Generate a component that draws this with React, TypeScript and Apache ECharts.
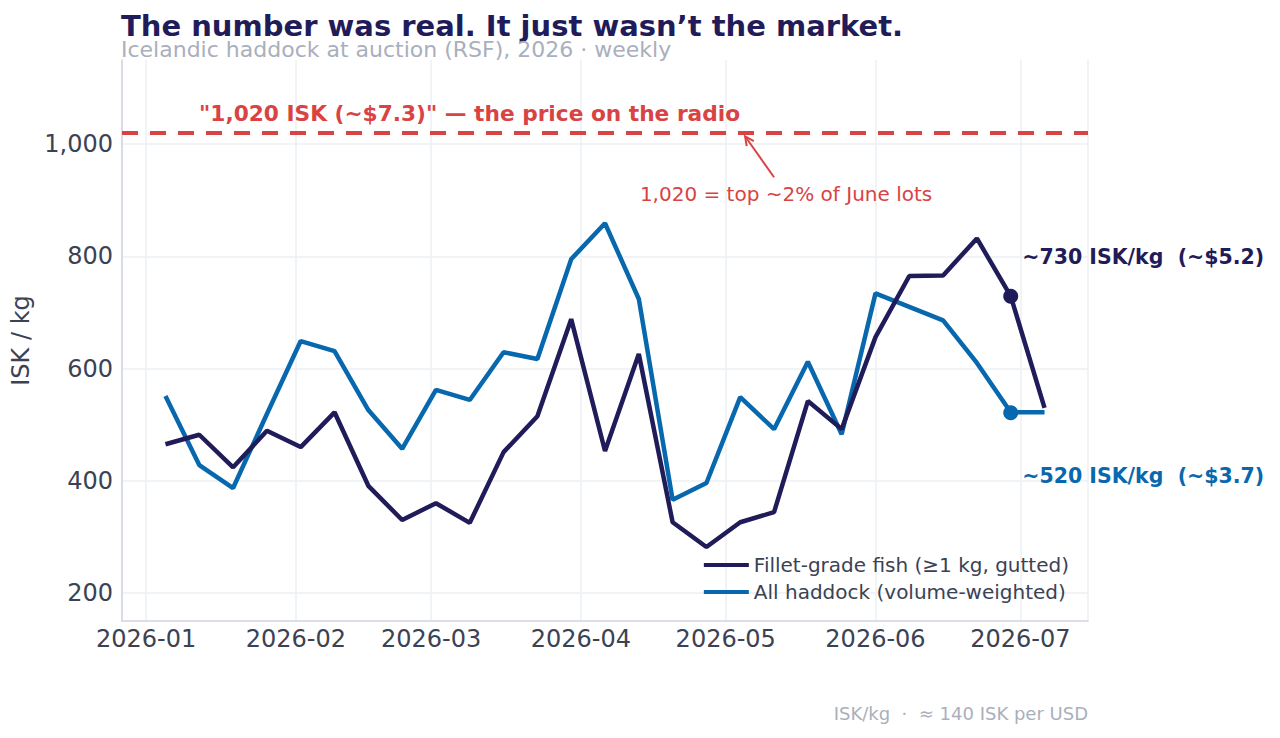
import React, { useEffect, useRef } from "react";
import * as echarts from "echarts";

const weeks = [
  "2026-01-05", "2026-01-12", "2026-01-19", "2026-01-26", "2026-02-02", "2026-02-09",
  "2026-02-16", "2026-02-23", "2026-03-02", "2026-03-09", "2026-03-16", "2026-03-23",
  "2026-03-30", "2026-04-06", "2026-04-13", "2026-04-20", "2026-04-27", "2026-05-04",
  "2026-05-11", "2026-05-18", "2026-05-25", "2026-06-01", "2026-06-08", "2026-06-15",
  "2026-06-22", "2026-06-29", "2026-07-06",
];
const filletGrade = [465, 482, 424, 489, 460, 522, 391, 330, 360, 325, 451, 515, 688, 453, 626, 326, 282, 326, 344, 542, 492, 656, 765, 766, 832, 729, 530];
const allHaddock = [551, 428, 387, 519, 649, 631, 526, 457, 562, 544, 629, 617, 795, 859, 724, 366, 396, 549, 492, 612, 483, 734, 710, 686, 610, 522, 522];
const seriesNames = ["Fillet-grade fish (\u22651 kg, gutted)", "All haddock (volume-weighted)"];
const radioPrice = 1020;
const markerDate = "2026-06-29";
const markerFillet = 729;
const markerAll = 521;
const markerLabels = ["~730 ISK/kg  (~$5.2)", "~520 ISK/kg  (~$3.7)"];
const radioLabel = "\"1,020 ISK (~$7.3)\" \u2014 the price on the radio";
const noteLabel = "1,020 = top ~2% of June lots";
const noteFrom = ["2026-05-11", 941];
const noteTo = ["2026-05-05", 1014];

const NAVY = "#1f1c59";
const BLUE = "#0868ae";
const RED = "#d94343";
const FONT = "DejaVu Sans";
const TXT = "#3b4254";

export default function App() {
  const ref = useRef<HTMLDivElement>(null);
  useEffect(() => {
    if (!ref.current) return;
    const chart = echarts.init(ref.current, null, { renderer: "svg" });
    const option: any = {
      animation: false,
      textStyle: { fontFamily: FONT },
      title: {
        text: "The number was real. It just wasn\u2019t the market.",
        subtext: "Icelandic haddock at auction (RSF), 2026 \u00b7 weekly",
        left: 116,
        top: 6,
        itemGap: -2,
        textStyle: { fontFamily: FONT, fontSize: 29, fontWeight: "bold", color: NAVY },
        subtextStyle: { fontFamily: FONT, fontSize: 22, color: "#a9afbd" },
      },
      grid: { left: 122, right: 192, top: 60, bottom: 117 },
      legend: {
        orient: "vertical",
        right: 206,
        top: 550,
        itemWidth: 45,
        itemHeight: 4,
        itemGap: 7,
        icon: "rect",
        data: seriesNames,
        textStyle: { fontFamily: FONT, fontSize: 20, color: TXT },
      },
      xAxis: {
        type: "time",
        min: "2025-12-27",
        max: "2026-07-15",
        splitNumber: 7,
        minInterval: 28 * 86400000,
        axisLine: { lineStyle: { color: "#cfd5df", width: 1.5 } },
        axisTick: { show: false },
        axisLabel: {
          fontFamily: FONT,
          fontSize: 24,
          color: TXT,
          margin: 6,
          formatter: "{yyyy}-{MM}",
          showMinLabel: false,
          showMaxLabel: false,
        },
        splitLine: { show: true, lineStyle: { color: "#edf0f4", width: 1.5 } },
      },
      yAxis: {
        type: "value",
        min: 150,
        max: 1150,
        splitNumber: 5,
        name: "ISK / kg",
        nameLocation: "middle",
        nameGap: 82,
        nameTextStyle: { fontFamily: FONT, fontSize: 24, color: TXT },
        axisLine: { show: true, lineStyle: { color: "#cfd5df", width: 1.5 } },
        axisTick: { show: false },
        axisLabel: {
          fontFamily: FONT,
          fontSize: 24,
          color: TXT,
          margin: 9,
          showMinLabel: false,
          showMaxLabel: false,
          formatter: (v: number) => v.toLocaleString("en-US"),
        },
        splitLine: { show: true, showMinLine: false, showMaxLine: false, lineStyle: { color: "#edf0f4", width: 1.5 } },
      },
      series: [
        {
          name: seriesNames[0],
          type: "line",
          data: weeks.map((d, i) => [d, filletGrade[i]]),
          showSymbol: false,
          symbol: "none",
          lineStyle: { color: NAVY, width: 4.5 },
          itemStyle: { color: NAVY },
          z: 3,
          markLine: {
            silent: true,
            symbol: "none",
            label: { show: false },
            lineStyle: { color: RED, width: 4, type: [16, 12] },
            data: [{ yAxis: radioPrice }],
          },
        },
        {
          name: seriesNames[1],
          type: "line",
          data: weeks.map((d, i) => [d, allHaddock[i]]),
          showSymbol: false,
          symbol: "none",
          lineStyle: { color: BLUE, width: 4.5 },
          itemStyle: { color: BLUE },
          z: 2,
        },
        {
          type: "scatter",
          data: [[markerDate, markerFillet]],
          symbolSize: 15,
          itemStyle: { color: NAVY, opacity: 1 },
          z: 5,
          label: {
            show: true,
            position: "right",
            distance: 4,
            offset: [0, -39],
            formatter: markerLabels[0],
            fontFamily: FONT,
            fontSize: 20.5,
            fontWeight: "bold",
            color: NAVY,
          },
        },
        {
          type: "scatter",
          data: [[markerDate, markerAll]],
          symbolSize: 15,
          itemStyle: { color: BLUE, opacity: 1 },
          z: 5,
          label: {
            show: true,
            position: "right",
            distance: 4,
            offset: [0, 63],
            formatter: markerLabels[1],
            fontFamily: FONT,
            fontSize: 20.5,
            fontWeight: "bold",
            color: BLUE,
          },
        },
      ],
    };
    chart.setOption(option);

    const from = chart.convertToPixel({ gridIndex: 0 }, noteFrom) as number[];
    const to = chart.convertToPixel({ gridIndex: 0 }, noteTo) as number[];
    const ang = Math.atan2(to[1] - from[1], to[0] - from[0]);
    const hl = 10;
    const spread = 0.45;
    const head = [
      [to[0] - hl * Math.cos(ang - spread), to[1] - hl * Math.sin(ang - spread)],
      [to[0], to[1]],
      [to[0] - hl * Math.cos(ang + spread), to[1] - hl * Math.sin(ang + spread)],
    ];
    const radioPx = chart.convertToPixel({ gridIndex: 0 }, ["2026-01-01", radioPrice]) as number[];
    chart.setOption({
      graphic: [
        {
          type: "text",
          left: 199,
          top: radioPx[1] - 30,
          style: { text: radioLabel, fill: RED, font: `bold 21.7px "${FONT}"` },
          z: 10,
        },
        {
          type: "line",
          shape: { x1: from[0], y1: from[1], x2: to[0], y2: to[1] },
          style: { stroke: RED, lineWidth: 2 },
          z: 10,
        },
        {
          type: "polyline",
          shape: { points: head },
          style: { stroke: RED, lineWidth: 2, fill: "none" },
          z: 10,
        },
        {
          type: "text",
          x: from[0] + 12,
          y: from[1] + 17,
          style: { text: noteLabel, fill: RED, font: `20px "${FONT}"`, align: "center", verticalAlign: "middle" },
          z: 10,
        },
        {
          type: "text",
          right: 192,
          top: 704,
          style: { text: "ISK/kg  \u00b7  \u2248 140 ISK per USD", fill: "#a9afbd", font: `18px "${FONT}"` },
        },
      ],
    });
    return () => chart.dispose();
  }, []);
  return <div ref={ref} style={{ width: 1280, height: 738, position: "absolute", left: 0, top: 0, background: "#fff" }} />;
}
